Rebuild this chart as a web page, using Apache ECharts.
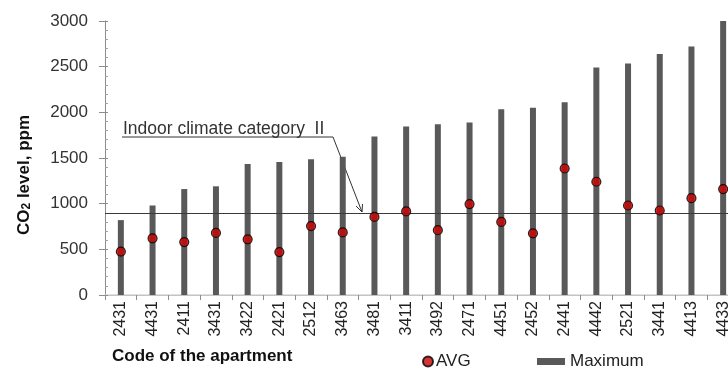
<!DOCTYPE html>
<html>
<head>
<meta charset="utf-8">
<script src="https://cdn.jsdelivr.net/npm/echarts@6/dist/echarts.min.js"></script>
<style>
  html, body { margin: 0; padding: 0; background: #fff; overflow: hidden; }
  /* the plot runs slightly past the right edge of the page, so the last column is clipped */
  #chart { width: 739px; height: 370px; }
</style>
</head>
<body>
<div id="chart"></div>
<script>
// Apartment codes, ordered by maximum CO2 level
const apartments = ['2431', '4431', '2411', '3431', '3422', '2421', '2512', '3463', '3481', '3411',
                    '3492', '2471', '4451', '2452', '2441', '4442', '2521', '3441', '4413', '4433'];
// Maximum CO2 level per apartment, ppm
const maxLevel = [820, 980, 1160, 1190, 1435, 1455, 1485, 1515, 1735, 1845,
                  1870, 1890, 2035, 2050, 2110, 2490, 2535, 2640, 2720, 3000];
// Average CO2 level per apartment, ppm
const avgLevel = [475, 620, 580, 680, 610, 470, 755, 685, 855, 915,
                  710, 995, 800, 675, 1385, 1240, 980, 925, 1060, 1160];
// Indoor climate category II limit, ppm
const categoryLimit = 900;
const yTicks = { min: 0, max: 3000, step: 500 };

const FONT = 'Liberation Sans, Arial, sans-serif';
const AXIS_GREY = '#8c8c8c';
const chart = echarts.init(document.getElementById('chart'), null, { renderer: 'canvas' });

const yBase = {
  type: 'value',
  min: yTicks.min, max: yTicks.max, interval: yTicks.step,
  position: 'left',
  splitLine: { show: false }
};

chart.setOption({
  animation: false,
  backgroundColor: '#fff',
  textStyle: { fontFamily: FONT },
  grid: { left: 105, top: 21, right: 0, bottom: 75, containLabel: false },
  legend: [
    {
      data: [{ name: 'AVG', icon: 'circle' }],
      left: 417, top: 348, itemWidth: 10, itemHeight: 10, itemGap: 4,
      selectedMode: false,
      textStyle: { fontSize: 17, color: '#222', fontFamily: FONT, padding: [0, 0, 0, -2] }
    },
    {
      data: [{ name: 'Maximum', icon: 'rect' }],
      left: 532, top: 348, itemWidth: 28, itemHeight: 7, itemGap: 4,
      selectedMode: false,
      textStyle: { fontSize: 17, color: '#222', fontFamily: FONT }
    }
  ],
  xAxis: [
    {
      type: 'category',
      data: apartments,
      axisLine: { lineStyle: { color: AXIS_GREY, width: 1 } },
      axisTick: { show: true, length: 5, lineStyle: { color: AXIS_GREY } },
      axisLabel: { rotate: 90, fontSize: 16, color: '#222', margin: 6, fontFamily: FONT }
    },
    {
      // light frame line along the top of the plot
      type: 'category',
      position: 'top',
      data: apartments,
      axisLine: { show: true, lineStyle: { color: '#d6d6d6', width: 1.5 } },
      axisTick: { show: false },
      axisLabel: { show: false }
    }
  ],
  yAxis: [
    Object.assign({}, yBase, {
      name: 'CO{sub|2} level, ppm',
      nameLocation: 'middle',
      nameGap: 72,
      nameRotate: 90,
      nameTextStyle: {
        fontSize: 17, fontWeight: 'bold', color: '#111', fontFamily: FONT,
        padding: [0, 34, 0, 0],
        rich: { sub: { fontSize: 12, fontWeight: 'bold', color: '#111', verticalAlign: 'bottom', padding: [6, 0, 0, 0] } }
      },
      axisLine: { show: true, lineStyle: { color: AXIS_GREY } },
      // minor ticks point into the plot
      axisTick: { show: true, inside: true, length: 3, lineStyle: { color: AXIS_GREY } },
      minorTick: { show: true, splitNumber: 5, length: 3, lineStyle: { color: '#a0a0a0' } },
      axisLabel: {
        fontSize: 17, color: '#333', margin: 17, fontFamily: FONT,
        formatter: v => String(v)
      }
    }),
    Object.assign({}, yBase, {
      // major ticks point outwards
      axisLine: { show: false },
      axisTick: { show: true, inside: false, length: 6, lineStyle: { color: AXIS_GREY } },
      minorTick: { show: false },
      axisLabel: { show: false }
    })
  ],
  series: [
    {
      name: 'Maximum',
      type: 'bar',
      data: maxLevel,
      barWidth: 6,
      itemStyle: { color: '#595959' },
      z: 2,
      markLine: {
        silent: true,
        symbol: 'none',
        label: { show: false },
        lineStyle: { color: '#3a3a3a', width: 1, type: 'solid' },
        data: [{ yAxis: categoryLimit }]
      }
    },
    {
      name: 'AVG',
      type: 'scatter',
      data: avgLevel,
      symbol: 'circle',
      symbolSize: 9,
      itemStyle: { color: '#cc0000', borderColor: '#000', borderWidth: 1.2 },
      z: 5
    }
  ],
  graphic: [
    {
      type: 'text', left: 112, top: 348,
      style: { text: 'Code of the apartment', font: 'bold 17px ' + FONT, fill: '#111' }
    },
    {
      type: 'text', x: 123, y: 120,
      style: { text: 'Indoor climate category  II', font: '17.5px ' + FONT, fill: '#333' }
    },
    {
      type: 'polyline',
      shape: { points: [[122, 137], [333, 137], [362, 212]] },
      style: { stroke: '#333', lineWidth: 1, fill: null }
    },
    {
      type: 'polyline',
      shape: { points: [[356, 206], [362, 212], [362.5, 204]] },
      style: { stroke: '#333', lineWidth: 1, fill: null }
    }
  ]
});
</script>
</body>
</html>
